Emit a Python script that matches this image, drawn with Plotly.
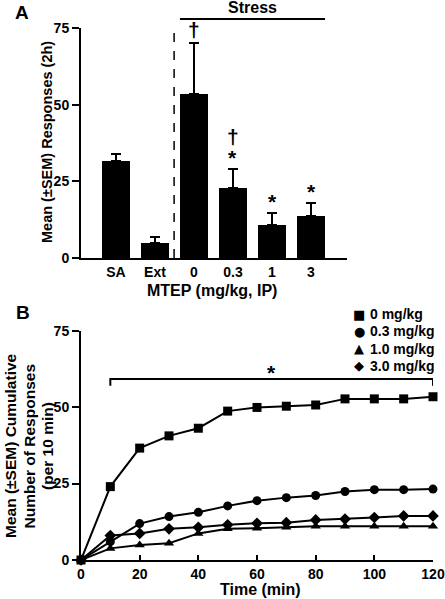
import plotly.graph_objects as go

# ---------------- data ----------------
groups = ["SA", "Ext", "0", "0.3", "1", "3"]
group_means = [31.6, 5.0, 53.4, 22.9, 10.8, 13.6]
group_sem = [2.4, 1.8, 16.7, 6.2, 4.0, 4.2]
group_marks = ["", "", "†", "*†", "*", "*"]   # listed bottom-up

time_min = [0, 10, 20, 30, 40, 50, 60, 70, 80, 90, 100, 110, 120]
dose_labels = ["0 mg/kg", "0.3 mg/kg", "1.0 mg/kg", "3.0 mg/kg"]
cum_0 = [0, 24.0, 36.6, 40.6, 43.1, 48.7, 49.9, 50.3, 50.7, 52.7, 52.7, 52.7, 53.4]
cum_03 = [0, 6.0, 11.9, 14.2, 15.6, 17.7, 19.4, 20.4, 21.1, 22.4, 23.0, 23.0, 23.2]
cum_10 = [0, 3.8, 4.9, 5.5, 8.7, 10.2, 10.4, 10.7, 11.0, 11.0, 11.0, 11.0, 11.0]
cum_30 = [0, 8.0, 8.7, 10.2, 10.7, 11.5, 12.0, 12.2, 13.1, 13.4, 13.9, 14.4, 14.4]
series = [cum_0, cum_03, cum_10, cum_30]
symbols = ["square", "circle", "triangle-up", "diamond"]
symbol_glyphs = ["■", "●", "▲", "◆"]
ytitle_b = ["Mean (±SEM) Cumulative", "Number of Responses", "(per 10 min)"]

W, H = 445, 599
def px(x):
    return x / W
def py(y):
    return 1 - y / H

FONT = "Liberation Sans, Arial, Helvetica, sans-serif"
fig = go.Figure()

# ---------------- panel A ----------------
xpos = list(range(len(groups)))
fig.add_trace(go.Bar(
    x=xpos, y=group_means, width=0.72,
    marker=dict(color="black", line=dict(width=0)),
    error_y=dict(type="data", symmetric=False, array=group_sem,
                 arrayminus=[0] * len(groups), color="black",
                 thickness=2, width=5),
    xaxis="x", yaxis="y", showlegend=False,
))

# ---------------- panel B ----------------
for vals, lab, sym in zip(series, dose_labels, symbols):
    fig.add_trace(go.Scatter(
        x=time_min, y=vals, mode="lines+markers", name=lab,
        line=dict(color="black", width=2),
        marker=dict(symbol=sym, size=9, color="black"),
        xaxis="x2", yaxis="y2", showlegend=False, cliponaxis=False,
    ))

axis_common = dict(showgrid=False, zeroline=False, showline=True,
                   linecolor="black", linewidth=2, automargin=False,
                   tickfont=dict(size=14, family=FONT, color="black", weight="bold"))

fig.update_layout(
    width=W, height=H,
    margin=dict(l=0, r=0, t=0, b=0, autoexpand=False),
    plot_bgcolor="white", paper_bgcolor="white",
    font=dict(family=FONT, size=14, color="black", weight="bold"),
    xaxis=dict(domain=[px(81), px(347)], range=[-0.897, 5.923],
               tickvals=xpos, ticktext=groups, ticks="", anchor="y",
               **axis_common),
    yaxis=dict(domain=[py(258), py(28)], range=[0, 75],
               tickvals=[0, 25, 50, 75], ticks="outside", ticklen=7,
               tickwidth=2, tickcolor="black", anchor="x", **axis_common),
    xaxis2=dict(domain=[px(81), px(433)], range=[0, 120],
                tickvals=[0, 20, 40, 60, 80, 100, 120], ticks="inside",
                ticklen=5, tickwidth=1.5, tickcolor="black", anchor="y2",
                **axis_common),
    yaxis2=dict(domain=[py(560), py(330.7)], range=[0, 75],
                tickvals=[0, 25, 50, 75], ticks="outside", ticklen=7,
                tickwidth=2, tickcolor="black", anchor="x2", **axis_common),
    showlegend=False,
    bargap=0,
)

# shapes
fig.add_shape(type="line", xref="x", yref="y", x0=1.49, x1=1.49, y0=0, y1=75,
              line=dict(color="black", width=1.5, dash="dash"))
fig.add_shape(type="line", xref="x", yref="paper", x0=1.64, x1=5.36,
              y0=py(19), y1=py(19), line=dict(color="black", width=2))
fig.add_shape(type="path", xref="x2", yref="y2",
              path="M 10 57 L 10 59.2 L 120 59.2 L 120 57",
              line=dict(color="black", width=2))

ann = []
# significance marks panel A (stacked upward from the error-bar top)
for i, (m, s, marks) in enumerate(zip(group_means, group_sem, group_marks)):
    for k, ch in enumerate(marks):
        shift = (-2 if ch == "*" else 0) + 19 * k
        ann.append(dict(x=i, y=m + s, xref="x", yref="y", text=ch,
                        showarrow=False, xanchor="center", yanchor="bottom",
                        yshift=shift, font=dict(size=21, family=FONT, weight="bold")))

def txt(x, y, text, size, angle=0, xanchor="center", yanchor="middle", family=FONT):
    return dict(x=px(x), y=py(y), xref="paper", yref="paper", text=text,
                textangle=angle, showarrow=False, xanchor=xanchor,
                yanchor=yanchor, font=dict(size=size, family=family))

ann += [
    dict(x=3.5, y=py(8), xref="x", yref="paper", text="Stress",
         showarrow=False, xanchor="center", yanchor="middle",
         font=dict(size=16)),
    txt(212, 290, "MTEP (mg/kg, IP)", 16),
    txt(47, 142, "Mean (±SEM) Responses (2h)", 14.5, angle=-90),
    txt(22, 12, "A", 19),
    txt(23, 312, "B", 19),
    dict(x=65, y=59.2, xref="x2", yref="y2", text="*", showarrow=False,
         xanchor="center", yanchor="bottom", yshift=-7, font=dict(size=21)),
    txt(260, 589, "Time (min)", 16),
]
for xline, line in zip([10, 28.5, 47], ytitle_b):
    ann.append(txt(xline, 446, line, 15.5, angle=-90))
# legend (panel B)
for k, (g, lab) in enumerate(zip(symbol_glyphs, dose_labels)):
    yy = 314 + 17.3 * k
    ann.append(txt(359, yy, g, 13, family="DejaVu Sans"))
    ann.append(txt(368, yy, lab, 14, xanchor="left"))
fig.update_layout(annotations=ann)

fig.write_html("out.html", config={"displayModeBar": False},
               post_script="document.body.style.margin='0px';"
                           "document.body.style.padding='0px';")
